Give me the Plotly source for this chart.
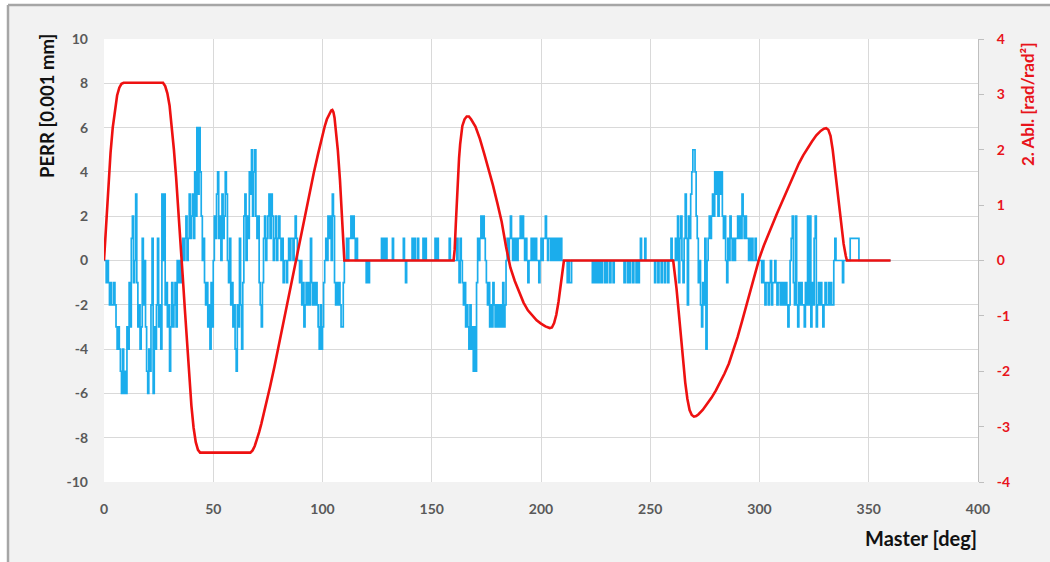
import plotly.graph_objects as go

# ---------------- data ----------------
# PERR samples (0.001 mm), every 0.5 deg from 0 to 360 deg
perr_step_deg = 0.5
perr_values = [
    0, 0, -1, 0, -1, -2, -1, -2, -2, -1, -2, -3, -4, -3, -4, -5, -6, -4, -6, -5,
    -6, -3, -4, -1, -3, 1, 2, -1, 0, 3, -1, -3, -2, -4, -3, 1, -2, 0, -3, -5,
    -6, -4, -5, -2, 1, -6, -3, -4, -2, 1, -3, -2, -4, 3, 0, 3, -2, -1, -3, -2,
    -5, -3, -1, -3, -2, -1, -3, 0, -1, 0, -1, 0, 1, 0, 1, 2, 0, 1, 3, 1,
    2, 3, 1, 4, 2, 6, 3, 6, 4, 2, 0, 1, -1, -2, -1, -3, -2, -4, -1, -3,
    0, 2, 1, 3, 4, 1, 2, 0, 3, 1, 2, 4, 3, 0, -1, 1, -2, -1, -3, -2,
    -4, -5, -2, -3, 1, -2, -4, -1, 2, 3, 0, 2, 1, 4, 3, 5, 2, 4, 5, 2,
    1, 2, -1, -2, -3, -1, 1, 2, 0, 1, 2, 3, 1, 3, 2, 0, 1, 2, 0, 1,
    2, 1, 0, 1, -1, 0, 0, -1, 0, 1, 0, 1, 1, 0, 1, 2, 1, 0, 0, -1,
    0, -2, -1, -3, -2, -1, -2, -1, -2, 1, -1, -2, -1, -2, -1, -2, -3, -4, -2, -4,
    -3, -1, 0, 1, 0, 2, 1, 2, 0, 3, 2, -1, -2, -1, -2, -1, -2, -3, -3, -1,
    0, 0, 1, 0, 1, 1, 2, 1, 2, 1, 0, 1, 0, 0, 0, 0, 0, 0, 0, 0,
    -1, 0, -1, 0, 0, 0, 0, 0, 0, 0, 0, 0, 0, 0, 1, 0, 1, 0, 1, 0,
    0, 0, 0, 0, 1, 0, 0, 0, 0, 0, 0, 0, 0, 0, 1, 0, -1, 0, 0, 0,
    0, 0, 1, 0, 1, 0, 0, 1, 0, 0, 0, 0, 1, 0, 1, 0, 0, 0, 0, 0,
    0, 0, 0, 1, 0, 1, 0, 0, 0, 0, 0, 0, 0, 0, 0, 0, 1, 0, 0, 0,
    0, 0, 0, 1, 0, -1, 1, 0, -1, -2, -1, -3, -2, -3, -4, -2, -4, -3, -5, -3,
    -5, -1, 1, 0, 1, 2, 1, 2, 1, 0, -1, -2, -1, -3, -2, -3, -1, -2, -3, -2,
    -3, -2, -3, -2, -3, -1, -3, -2, 0, 1, 0, 1, 2, 1, 0, 1, 0, 1, 0, 1,
    1, 2, 1, 2, 1, 0, 1, 0, -1, 0, 0, 1, 0, 1, 0, 1, 0, 0, -1, 0,
    1, 0, 1, 1, 2, 1, 0, 1, 1, 0, 1, 0, 1, 0, 1, 0, 1, 0, 1, 0,
    0, 0, 0, 0, -1, 0, -1, -1, 0, 0, 0, 0, 0, 0, 0, 0, 0, 0, 0, 0,
    0, 0, 0, 0, 0, 0, 0, -1, 0, -1, 0, -1, 0, -1, 0, -1, 0, 0, -1, 0,
    -1, 0, 0, -1, 0, 0, -1, 0, 0, 0, 0, 0, 0, 0, 0, 0, -1, 0, 0, -1,
    0, -1, 0, 0, -1, 0, 0, -1, 0, -1, 0, 1, 0, 0, 0, 1, 0, 0, 0, 0,
    0, 0, 0, 0, -1, 0, 0, -1, 0, 0, -1, 0, 0, -1, 0, 0, -1, 0, 0, 1,
    0, 0, 0, 1, 0, 2, -1, 1, 2, 0, -1, 1, 3, 1, -2, 2, 1, 3, 4, 5,
    5, 4, 2, 1, -1, 0, -2, -3, -1, -2, 1, -4, 0, 1, 2, 1, 2, 3, 2, 4,
    3, 4, 2, 4, 3, 4, 2, 1, 2, 0, -1, 1, 0, 2, 1, 0, 1, 0, 1, 1,
    2, 1, 2, 1, 3, 2, 1, 2, 1, 1, 0, 1, 0, 1, 0, 0, 1, 0, 0, 0,
    0, 0, -1, 0, -1, -2, -1, -1, -2, -1, 0, -2, -1, -1, 0, -1, -2, -1, -1, -2,
    -1, -2, -1, -2, -1, -2, -3, -2, 0, 1, 2, -1, -2, 2, -2, -3, -1, -2, -1, -2,
    -2, -3, -1, -2, 2, -2, 2, -3, -1, -2, 1, 2, -3, -2, -1, -2, -1, -2, -3, -2,
    -1, -2, -2, -1, -2, -1, -2, -2, 0, 1, 0, 0, 0, 0, 0, 0, -1, 0, 0, 0,
    0, 0, 0, 1, 1, 1, 1, 1, 1, 1, 1, 0, 0, 0, 0, 0, 0, 0, 0, 0,
    0, 0, 0, 0, 0, 0, 0, 0, 0, 0, 0, 0, 0, 0, 0, 0, 0, 0, 0, 0,
    0,
]
perr_deg = [i * perr_step_deg for i in range(len(perr_values))]

# 2nd derivative of the cam law (rad/rad^2)
abl_deg = [0, 1, 2, 3, 4, 5, 6, 7, 8, 9, 27, 28, 29, 30, 31, 32, 33, 34, 35, 36,
           37, 38, 39, 40, 41, 42, 43, 44, 67, 68, 69, 70, 71, 72, 73, 74, 75, 76,
           78, 80, 82, 84, 86, 88, 90, 92, 94, 96, 98, 100, 101, 102, 103, 104,
           104.5, 105, 105.5, 106, 107, 108, 109, 109.6, 110, 160, 160.5, 161,
           161.5, 162, 162.5, 163, 163.5, 164, 165, 166, 167, 168, 170, 172, 174,
           176, 178, 180, 182, 184, 185, 186, 188, 190, 192, 194, 196, 198, 200,
           202, 204, 205, 206, 207, 208, 209, 210, 210.5, 260.5, 261, 262, 263,
           264, 265, 266, 267, 268, 269, 270, 271, 272, 274, 276, 278, 280, 282,
           284, 286, 288, 290, 292, 294, 296, 298, 300, 302, 304, 306, 308, 310,
           312, 314, 316, 318, 320, 322, 324, 326, 328, 329.5, 330.5, 331.5,
           332.5, 333.5, 334.5, 335.5, 336.5, 337.5, 338.5, 339.5, 340, 360]
abl_val = [0, 0.65, 1.35, 1.95, 2.4, 2.75, 2.98, 3.12, 3.19, 3.21, 3.21, 3.15, 3.02,
           2.8, 2.45, 2.0, 1.5, 0.97, 0.35, -0.27, -0.88, -1.5, -2.1, -2.62, -3.02,
           -3.28, -3.42, -3.47, -3.47, -3.43, -3.35, -3.24, -3.1, -2.95, -2.79,
           -2.62, -2.45, -2.28, -1.92, -1.53, -1.13, -0.73, -0.33, 0.07, 0.46, 0.85,
           1.22, 1.58, 1.93, 2.27, 2.42, 2.55, 2.64, 2.71, 2.72, 2.68, 2.58, 2.42,
           2.0, 1.45, 0.8, 0.3, 0, 0, 0.2, 0.65, 1.1, 1.5, 1.85, 2.1, 2.3, 2.43,
           2.55, 2.6, 2.6, 2.55, 2.42, 2.2, 1.93, 1.65, 1.36, 1.04, 0.7, 0.25, 0.05,
           -0.13, -0.37, -0.58, -0.76, -0.9, -1.0, -1.08, -1.14, -1.19, -1.22,
           -1.21, -1.13, -0.98, -0.75, -0.48, -0.15, 0, 0, -0.15, -0.5, -0.92,
           -1.36, -1.8, -2.2, -2.5, -2.7, -2.79, -2.82, -2.81, -2.78, -2.7, -2.6,
           -2.48, -2.35, -2.2, -2.04, -1.86, -1.64, -1.38, -1.1, -0.8, -0.5,
           -0.2, 0.05, 0.27, 0.47, 0.66, 0.85, 1.03, 1.21, 1.4, 1.58, 1.75, 1.9,
           2.03, 2.15, 2.26, 2.34, 2.38, 2.39, 2.36, 2.25, 2.0, 1.65, 1.28, 0.93,
           0.6, 0.3, 0.08, 0, 0]

x_ticks = [0, 50, 100, 150, 200, 250, 300, 350, 400]
y_ticks = [-10, -8, -6, -4, -2, 0, 2, 4, 6, 8, 10]
y2_ticks = [-4, -3, -2, -1, 0, 1, 2, 3, 4]

# ---------------- figure ----------------
W, H = 1050, 562
L, R, T, B = 104, 72, 39, 80
pw, ph = W - L - R, H - T - B

def px(xp):
    return (xp - L) / pw

def py(yp):
    return (H - B - yp) / ph

FONT = "Lato"
BLUE = "#1badec"
RED = "#ee1111"
RED_TXT = "#e8141b"

fig = go.Figure()
fig.add_trace(go.Scatter(x=perr_deg, y=perr_values, mode="lines",
                         line=dict(color=BLUE, width=1.7, shape="hv"),
                         name="PERR", hoverinfo="skip"))
fig.add_trace(go.Scatter(x=abl_deg, y=abl_val, mode="lines", yaxis="y2",
                         line=dict(color=RED, width=2.6),
                         name="2. Abl.", hoverinfo="skip"))

tick_font = dict(family=FONT, size=14, color="#595959", weight="bold")

fig.update_layout(
    width=W, height=H,
    margin=dict(l=L, r=R, t=T, b=B, pad=0),
    paper_bgcolor="#f2f2f2",
    plot_bgcolor="white",
    showlegend=False,
    xaxis=dict(range=[0, 400], tickvals=x_ticks,
               ticktext=[str(v) for v in x_ticks], showgrid=True,
               gridcolor="#d9d9d9", gridwidth=1, zeroline=False,
               showline=False, ticks="", tickfont=tick_font,
               ticklabelstandoff=17),
    yaxis=dict(range=[-10, 10], tickvals=y_ticks,
               ticktext=[str(v) for v in y_ticks], showgrid=True,
               gridcolor="#d9d9d9", gridwidth=1, zeroline=False,
               showline=False, ticks="", tickfont=tick_font,
               ticklabelstandoff=15),
    yaxis2=dict(range=[-4, 4], tickvals=y2_ticks,
                ticktext=[str(v) for v in y2_ticks], overlaying="y",
                side="right", showgrid=False, zeroline=False, showline=True,
                linecolor="#bfbfbf", linewidth=1, ticks="outside", ticklen=5,
                tickcolor="#bfbfbf",
                tickfont=dict(family=FONT, size=14, color=RED_TXT,
                              weight="bold"),
                ticklabelstandoff=10),
    annotations=[
        dict(text="PERR [0.001 mm]", xref="paper", yref="paper",
             x=px(47), y=py(106), xanchor="center", yanchor="middle",
             textangle=-90, showarrow=False,
             font=dict(family=FONT, size=18.5, color="#111111", weight="bold")),
        dict(text="2. Abl. [rad/rad²]", xref="paper", yref="paper",
             x=px(1027), y=py(104), xanchor="center", yanchor="middle",
             textangle=-90, showarrow=False,
             font=dict(family=FONT, size=17, color=RED_TXT, weight="bold")),
        dict(text="Master [deg]", xref="paper", yref="paper",
             x=px(921), y=py(538), xanchor="center", yanchor="middle",
             showarrow=False,
             font=dict(family=FONT, size=20, color="#111111", weight="bold")),
    ],
    shapes=[
        dict(type="rect", xref="paper", yref="paper", x0=px(0), x1=px(8),
             y0=py(H), y1=py(0), fillcolor="white", line=dict(width=0),
             layer="below"),
        dict(type="rect", xref="paper", yref="paper", x0=px(0), x1=px(W),
             y0=py(5), y1=py(0), fillcolor="white", line=dict(width=0),
             layer="below"),
        dict(type="line", xref="paper", yref="paper", x0=px(8), x1=px(W),
             y0=py(5), y1=py(5), line=dict(color="#a6a6a6", width=2.5)),
        dict(type="line", xref="paper", yref="paper", x0=px(8), x1=px(8),
             y0=py(5), y1=py(H), line=dict(color="#a6a6a6", width=2.5)),
    ],
)

fig.write_html("out.html", config={"displayModeBar": False},
               post_script="document.body.style.margin='0px';")
